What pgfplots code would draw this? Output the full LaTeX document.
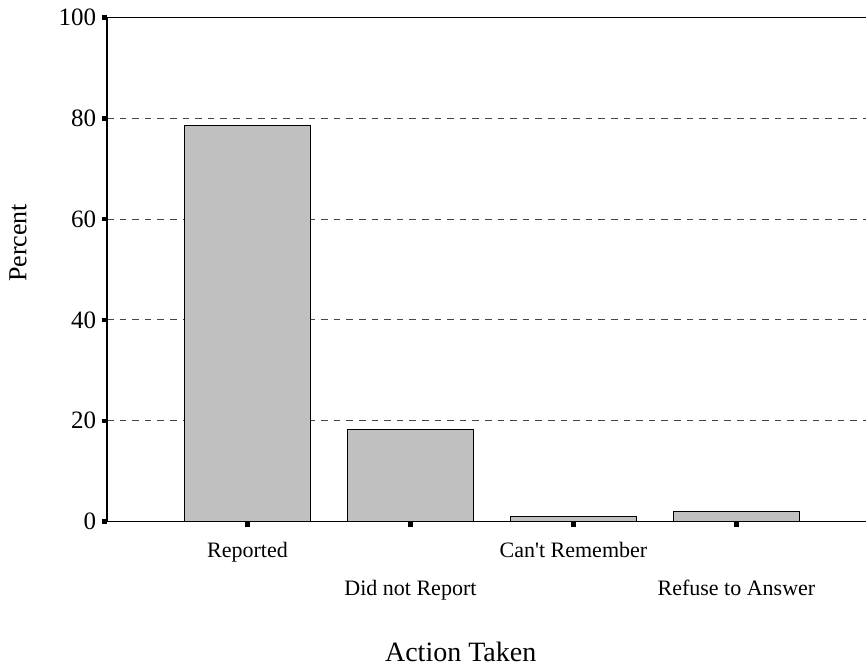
\documentclass[border=0pt]{standalone}
\usepackage{fontspec}
\setmainfont{Liberation Serif}
\usepackage{pgfplots}
\pgfplotsset{compat=1.18}

\definecolor{barfill}{RGB}{192,192,192}
\definecolor{gridcol}{RGB}{70,70,70}

\begin{document}
\begin{tikzpicture}
% 1 px of the reference = 0.5pt
\useasboundingbox (-53.5pt,-71.75pt) rectangle (379.5pt,260.75pt);
\begin{axis}[
  scale only axis,
  width=379.5pt, height=252pt,
  at={(0,0)}, anchor=south west,
  xmin=-0.862, xmax=3.795,
  ymin=0, ymax=100,
  axis x line*=bottom,
  axis y line*=left,
  axis line style={-, line width=0.7pt, black},
  ytick={0,20,40,60,80},
  extra y ticks={100},
  extra y tick style={major grid style={solid, black, line width=0.6pt}},
  ymajorgrids,
  major grid style={gridcol, dash pattern=on 3.3pt off 3pt, line width=0.5pt},
  tick align=outside,
  major tick length=2.75pt,
  tick style={line width=2.2pt, black},
  xtick={0,2},
  xticklabels={Reported,{Can\textquotesingle t Remember}},
  extra x ticks={1,3},
  extra x tick labels={Did not Report,Refuse to Answer},
  extra x tick style={xticklabel style={yshift=-19.25pt}},
  xticklabel style={anchor=base, yshift=-15pt, font=\fontsize{11}{13}\selectfont},
  yticklabel style={anchor=east, inner sep=0pt, xshift=-2.5pt, font=\fontsize{12.5}{14}\selectfont},
  /pgf/number format/assume math mode=true,
  xlabel={Action Taken},
  ylabel={Percent},
  xlabel style={at={(axis description cs:0.466,-0.259)}, anchor=center, font=\fontsize{14}{16}\selectfont},
  ylabel style={at={(axis description cs:-0.1173,0.553)}, anchor=center, font=\fontsize{13}{15}\selectfont},
  clip=false,
]
\addplot[ybar, bar width=63.25pt, fill=barfill, draw=black, line width=0.5pt]
  coordinates {(0,78.6) (1,18.3) (2,1.0) (3,1.9)};
\end{axis}
\end{tikzpicture}
\end{document}
